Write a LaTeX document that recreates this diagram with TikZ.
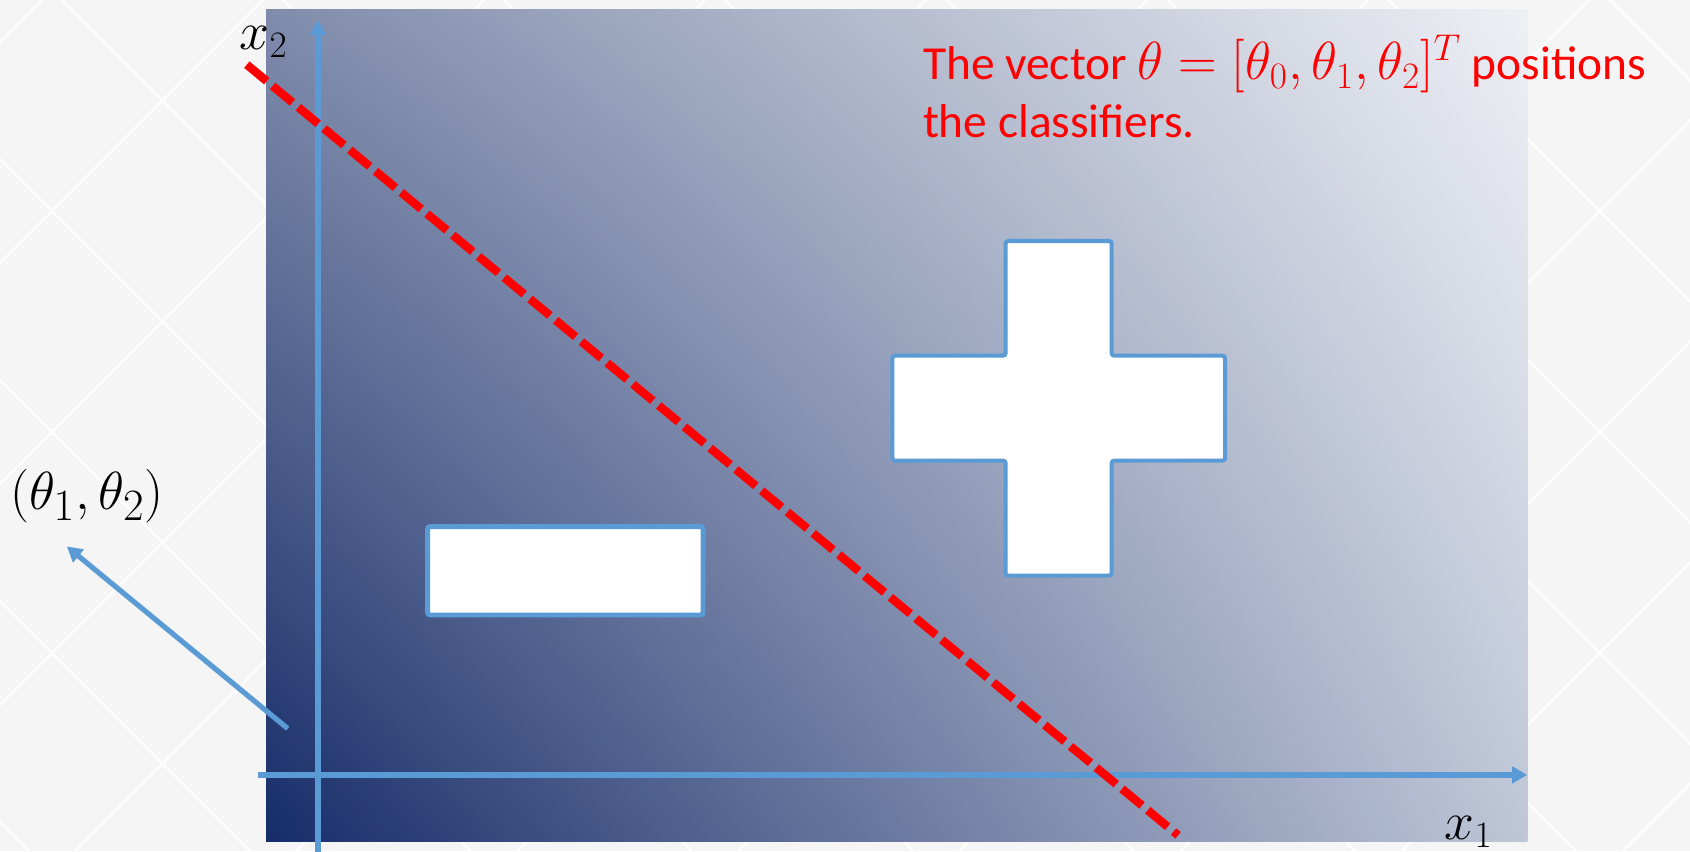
\documentclass[tikz,border=0pt]{standalone}
\usepackage[no-math]{fontspec}
\setmainfont{Carlito}
\usetikzlibrary{arrows.meta,shadings}
\definecolor{axisblue}{HTML}{5B9BD5}
\definecolor{bgcol}{HTML}{F5F5F5}
\definecolor{latcol}{HTML}{FDFDFD}
\definecolor{gLL}{HTML}{0B2262}
\definecolor{gUL}{HTML}{7A87A8}
\definecolor{gLR}{HTML}{BCC4D6}
\definecolor{gUR}{HTML}{EEF0F5}
\definecolor{notered}{HTML}{FF0000}
\newcommand{\bigmath}[1]{{\fontsize{26.4}{26.9}\selectfont$#1$}}
\begin{document}
\begin{tikzpicture}[x=0.5pt,y=0.5pt,
  axis/.style={draw=axisblue, line width=2.4pt, -{Triangle[length=7pt,width=7.5pt]}},
  normarrow/.style={draw=axisblue, line width=2.4pt, -{Triangle[length=7pt,width=7.5pt]}},
  sepline/.style={draw=notered, line width=3.9pt, dash pattern=on 12pt off 3.5pt},
  shapeline/.style={draw=axisblue, line width=1.9pt, fill=white, rounded corners=1.2pt},
  minusbox/.style={draw=axisblue, line width=2.3pt, fill=white, rounded corners=1.2pt,
    minimum width=127.75pt, minimum height=41pt, inner sep=0pt},
  lattice/.style={draw=latcol, line width=1.2pt},
  mathlbl/.style={inner sep=0pt, font=\fontsize{24}{28}\selectfont},
  mathlblbig/.style={inner sep=0pt, font=\fontsize{28}{32}\selectfont},
  redtxt/.style={inner sep=0pt, text=notered, align=left, font=\fontsize{22}{26.9}\selectfont}]
\useasboundingbox (0,0) rectangle (1568,-790);
\fill[bgcol] (0,0) rectangle (1568,-790);
\begin{scope}
  \clip (0,0) rectangle (1568,-790);
  \foreach \k in {-4,...,11}{
    \pgfmathsetmacro{\cc}{-352.6+205.1*\k}
    \pgfmathsetmacro{\dd}{449.1+205.1*\k}
    \draw[lattice] (-100,{\cc+100}) -- (1700,{\cc-1700});
    \draw[lattice] (-100,{-100-\dd}) -- (1700,{1700-\dd});
  }
\end{scope}
\shade[lower left=gLL, upper left=gUL, lower right=gLR, upper right=gUR, opacity=0.95]
  (247,-9) rectangle (1417,-781);
% plus sign
\draw[shapeline] (933,-223.6) -- (1031.4,-223.6) -- (1031.4,-330) -- (1136.6,-330)
  -- (1136.6,-427.4) -- (1031.4,-427.4) -- (1031.4,-534) -- (933,-534)
  -- (933,-427.4) -- (828,-427.4) -- (828,-330) -- (933,-330) -- cycle;
% minus sign
\node[minusbox] (minus) at (524.5,-529.6) {};
% axes
\coordinate (yb) at (295,-800);
\coordinate (yt) at (295,-18.5);
\coordinate (xl) at (239,-719);
\coordinate (xr) at (1417,-719);
\draw[axis] (yb) -- (yt);
\draw[axis] (xl) -- (xr);
% separating line
\coordinate (r1) at (229,-60);
\coordinate (r2) at (1093,-775);
\draw[sepline] (r1) -- (r2);
% normal vector arrow
\coordinate (a1) at (267,-676);
\coordinate (a2) at (62,-507);
\draw[normarrow] (a1) -- (a2);
% labels
\node[mathlbl, anchor=base west] (x2lbl) at (222,-46) {$x_2$};
\node[mathlbl, anchor=base west] (x1lbl) at (1340,-779) {$x_1$};
\node[mathlblbig, anchor=base west] (thlbl) at (9,-473) {$(\theta_1,\theta_2)$};
\node[redtxt, anchor=base west] (note) at (856,-128)
  {The vector \bigmath{\theta=[\theta_0,\theta_1,\theta_2]^T} positions\\the classifiers.};
\end{tikzpicture}
\end{document}
